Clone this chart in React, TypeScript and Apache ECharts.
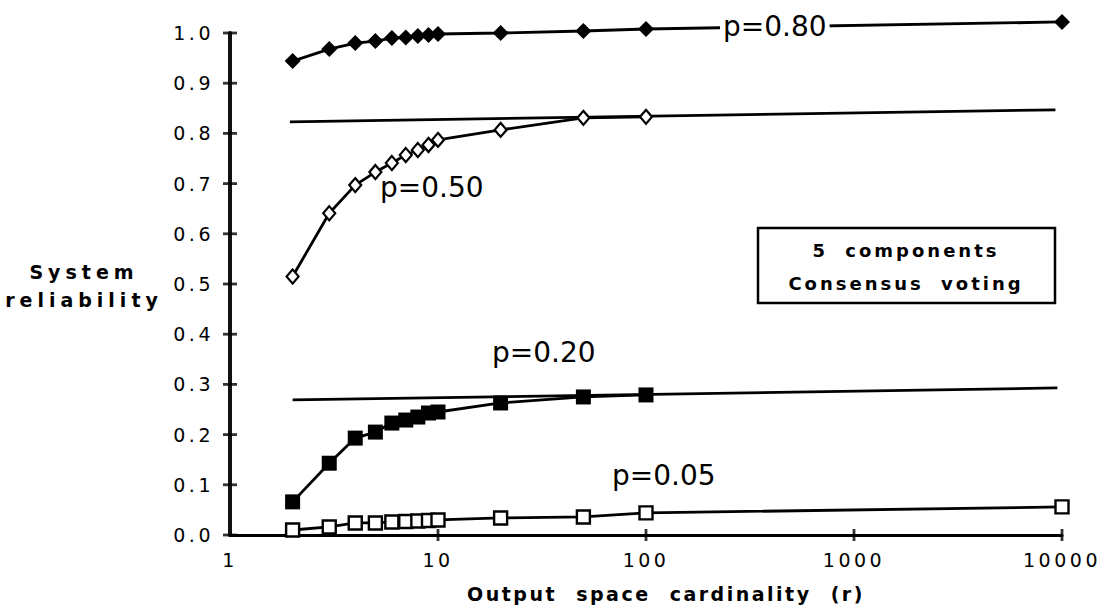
import React, { useEffect, useRef } from "react";
import * as echarts from "echarts";

// Output space cardinality r
const rValues = [2, 3, 4, 5, 6, 7, 8, 9, 10, 20, 50, 100, 10000];
// System reliability per component reliability p
const p80 = [0.944, 0.968, 0.98, 0.984, 0.99, 0.991, 0.994, 0.996, 0.998, 1.0, 1.004, 1.008, 1.022];
const p50 = [0.515, 0.641, 0.697, 0.723, 0.741, 0.757, 0.767, 0.777, 0.787, 0.807, 0.831, 0.833];
const p20 = [0.066, 0.143, 0.193, 0.205, 0.223, 0.229, 0.235, 0.243, 0.245, 0.263, 0.275, 0.279];
const p05 = [0.01, 0.016, 0.024, 0.024, 0.026, 0.027, 0.028, 0.029, 0.03, 0.034, 0.036, 0.044, 0.056];
// asymptote lines
const asym50X = [1.94, 9300];
const asym50Y = [0.823, 0.847];
const asym20X = [2.0, 9500];
const asym20Y = [0.269, 0.293];
// axis ticks
const xTicks = [10, 100, 1000, 10000];
const yTicks = [0, 0.1, 0.2, 0.3, 0.4, 0.5, 0.6, 0.7, 0.8, 0.9, 1.0];
const xMin = 1;
const xMax = 10000;
const yMin = 0;
const yMax = 1;

const seriesLabels = ["p=0.80", "p=0.50", "p=0.20", "p=0.05"];
const boxLines = ["5 components", "Consensus voting"];
const xTitle = "Output space cardinality (r)";
const yTitle = ["System", "reliability"];

const FONT = "'DejaVu Sans', sans-serif";

function pairs(xs: number[], ys: number[]) {
  return ys.map((y, i) => [xs[i], y]);
}

function applySpacing(root: HTMLElement) {
  root.querySelectorAll("text").forEach((t) => {
    const s = (t.textContent || "").trim();
    if (/^\d+(\.\d)?$/.test(s)) {
      t.setAttribute("letter-spacing", "3.5");
    } else if (s === yTitle[0] || s === yTitle[1]) {
      t.setAttribute("letter-spacing", "5");
    } else if (s === xTitle) {
      t.setAttribute("letter-spacing", "2.5");
      t.setAttribute("word-spacing", "10");
    } else if (s === boxLines[0] || s === boxLines[1]) {
      t.setAttribute("letter-spacing", "3");
      t.setAttribute("word-spacing", "8");
    }
  });
}

export default function App() {
  const ref = useRef<HTMLDivElement>(null);
  useEffect(() => {
    if (!ref.current) return;
    const chart = echarts.init(ref.current, undefined, { renderer: "svg" });
    const lineW = 2.8;
    const base = {
      type: "line" as const,
      clip: false,
      silent: true,
      z: 3,
      lineStyle: { color: "#000", width: lineW },
    };
    const pText = (text: string, x: number, y: number, extra: any = {}) => ({
      type: "text",
      x,
      y,
      z: 100,
      silent: true,
      style: {
        text,
        font: `28px ${FONT}`,
        fill: "#000",
        textAlign: "left",
        textVerticalAlign: "middle",
        ...extra,
      },
    });
    chart.setOption({
      animation: false,
      backgroundColor: "#fff",
      grid: { left: 230, right: 43, top: 33, bottom: 76, containLabel: false },
      xAxis: {
        type: "log",
        logBase: 10,
        min: xMin,
        max: xMax,
        position: "bottom",
        axisLine: { show: true, onZero: false, lineStyle: { color: "#000", width: 3 } },
        splitLine: { show: false },
        axisTick: { show: false },
        minorTick: { show: false },
        axisLabel: {
          show: true,
          margin: 15,
          color: "#000",
          fontFamily: FONT,
          fontSize: 19,
          formatter: (v: number) => String(Math.round(v)),
        },
      },
      yAxis: {
        type: "value",
        min: yMin,
        max: yMax,
        interval: 0.1,
        position: "left",
        axisLine: { show: true, onZero: false, lineStyle: { color: "#111", width: 4 } },
        splitLine: { show: false },
        axisTick: { show: false },
        axisLabel: {
          show: true,
          margin: 16,
          color: "#000",
          fontFamily: FONT,
          fontSize: 19,
          formatter: (v: number) => v.toFixed(1),
        },
      },
      series: [
        // crossing y ticks
        {
          type: "scatter",
          name: "y ticks",
          silent: true,
          clip: false,
          z: 2,
          symbol: "rect",
          symbolSize: [14, 2.8],
          itemStyle: { color: "#000" },
          data: yTicks.map((v) => [xMin, v]),
        },
        // crossing x ticks
        {
          type: "scatter",
          name: "x ticks",
          silent: true,
          clip: false,
          z: 2,
          symbol: "rect",
          symbolSize: [2.8, 12],
          itemStyle: { color: "#000" },
          data: xTicks.map((v) => [v, yMin]),
        },
        {
          ...base,
          name: "asymptote 0.50",
          z: 1,
          symbol: "none",
          data: pairs(asym50X, asym50Y),
        },
        {
          ...base,
          name: "asymptote 0.20",
          z: 1,
          symbol: "none",
          data: pairs(asym20X, asym20Y),
        },
        {
          ...base,
          name: seriesLabels[0],
          symbol: "diamond",
          symbolSize: 16,
          itemStyle: { color: "#000", borderColor: "#000", borderWidth: 0 },
          data: pairs(rValues, p80),
        },
        {
          ...base,
          name: seriesLabels[1],
          symbol: "diamond",
          symbolSize: [12, 14],
          itemStyle: { color: "#fff", borderColor: "#000", borderWidth: 2.2 },
          data: pairs(rValues, p50),
        },
        {
          ...base,
          name: seriesLabels[2],
          symbol: "rect",
          symbolSize: 15,
          itemStyle: { color: "#000", borderColor: "#000", borderWidth: 0 },
          data: pairs(rValues, p20),
        },
        {
          ...base,
          name: seriesLabels[3],
          symbol: "rect",
          symbolSize: 13,
          itemStyle: { color: "#fff", borderColor: "#000", borderWidth: 2.4 },
          data: pairs(rValues, p05),
        },
      ],
      graphic: [
        pText(seriesLabels[0], 720, 26, { backgroundColor: "#fff", padding: [2, 3, 2, 3] }),
        pText(seriesLabels[1], 380, 187),
        pText(seriesLabels[2], 492, 352),
        pText(seriesLabels[3], 612, 475),
        {
          type: "rect",
          z: 50,
          silent: true,
          shape: { x: 758, y: 228, width: 297, height: 75 },
          style: { fill: "#fff", stroke: "#000", lineWidth: 2.5 },
        },
        {
          type: "text",
          x: 906,
          y: 267,
          z: 60,
          silent: true,
          style: {
            text: boxLines.join("\n"),
            font: `bold 18px ${FONT}`,
            lineHeight: 33,
            fill: "#000",
            textAlign: "center",
            textVerticalAlign: "middle",
          },
        },
        {
          type: "text",
          x: 84,
          y: 286,
          silent: true,
          style: {
            text: yTitle.join("\n"),
            font: `bold 19px ${FONT}`,
            lineHeight: 28,
            fill: "#000",
            textAlign: "center",
            textVerticalAlign: "middle",
          },
        },
        {
          type: "text",
          x: 666,
          y: 594,
          silent: true,
          style: {
            text: xTitle,
            font: `bold 19px ${FONT}`,
            fill: "#000",
            textAlign: "center",
            textVerticalAlign: "middle",
          },
        },
      ],
    });
    const root = ref.current;
    applySpacing(root);
    const onFinished = () => applySpacing(root);
    chart.on("finished", onFinished);
    return () => {
      chart.off("finished", onFinished);
      chart.dispose();
    };
  }, []);
  return <div ref={ref} style={{ width: 1105, height: 611, position: "absolute", left: 0, top: 0 }} />;
}
